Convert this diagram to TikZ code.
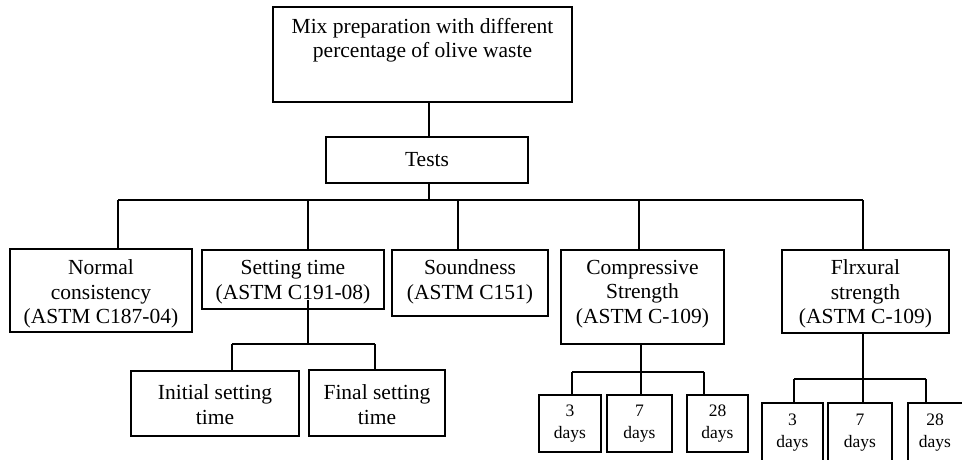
\documentclass[tikz,border=0pt]{standalone}
\usepackage{fontspec}
\setmainfont{Liberation Serif}
\begin{document}
\begin{tikzpicture}[x=1pt,y=-1pt,
  box/.style={draw, line width=1.1pt, rectangle, inner sep=0pt},
  txt/.style={align=center, inner sep=0pt, font=\fontsize{21.5}{24.5}\selectfont},
  small/.style={align=center, inner sep=0pt, font=\fontsize{17.5}{22}\selectfont},
  con/.style={line width=1.1pt}]
\useasboundingbox (0,0) rectangle (962,460);
% top
\node[box, minimum width=299, minimum height=95] (top) at (422.5,54.5) {};
\node[txt] (toptxt) at (422.5,40.5) {Mix preparation with different\\percentage of olive waste};
\node[box, minimum width=202, minimum height=46] (tests) at (427,160) {};
\node[txt] (teststxt) at (427,160) {Tests};
% level 2
\node[box, minimum width=182, minimum height=83] (norm) at (101,290.5) {};
\node[txt] (normtxt) at (101,294) {Normal\\consistency\\(ASTM C187-04)};
\node[box, minimum width=182, minimum height=59] (set) at (293,279.5) {};
\node[txt] (settxt) at (293,282) {Setting time\\(ASTM C191-08)};
\node[box, minimum width=156, minimum height=66] (sound) at (470,283) {};
\node[txt] (soundtxt) at (470,282) {Soundness\\(ASTM C151)};
\node[box, minimum width=163, minimum height=94] (comp) at (642.5,297) {};
\node[txt] (comptxt) at (642.5,294) {Compressive\\Strength\\(ASTM C-109)};
\node[box, minimum width=167, minimum height=83] (flex) at (865.5,291.5) {};
\node[txt] (flextxt) at (865.5,294) {Flrxural\\strength\\(ASTM C-109)};
% setting sub
\node[box, minimum width=168, minimum height=65] (init) at (215,403.5) {};
\node[txt] (inittxt) at (215,404.5) {Initial setting\\time};
\node[box, minimum width=136, minimum height=66] (fin) at (377,403) {};
\node[txt] (fintxt) at (377,404.5) {Final setting\\time};
% compressive days
\node[box, minimum width=62, minimum height=57] (c3) at (570,423.5) {};
\node[small] (c3t) at (570,424) {3\\days};
\node[box, minimum width=65, minimum height=57] (c7) at (639.5,423.5) {};
\node[small] (c7t) at (639.5,424) {7\\days};
\node[box, minimum width=61, minimum height=57] (c28) at (717.5,423.5) {};
\node[small] (c28t) at (717.5,424) {28\\days};
% flexural days
\node[box, minimum width=61, minimum height=67] (f3) at (792.5,436.5) {};
\node[small] (f3t) at (792.5,432.5) {3\\days};
\node[box, minimum width=64, minimum height=67] (f7) at (860,436.5) {};
\node[small] (f7t) at (860,432.5) {7\\days};
\node[box, minimum width=61, minimum height=67] (f28) at (938.5,436.5) {};
\node[small] (f28t) at (935,432.5) {28\\days};
% coordinates
\coordinate (t1) at (429,102);
\coordinate (t2) at (429,137);
\coordinate (t3) at (429,183);
\coordinate (b0) at (429,200);
\coordinate (d1) at (118,200);
\coordinate (d2) at (308,200);
\coordinate (d3) at (458,200);
\coordinate (d4) at (639,200);
\coordinate (d5) at (863,200);
\coordinate (s0) at (308,300);
\coordinate (s1) at (308,344);
\coordinate (sa) at (232,344);
\coordinate (sb) at (375,344);
\coordinate (c0) at (641,372);
\coordinate (ca) at (572,372);
\coordinate (cc) at (704,372);
\coordinate (f0) at (863,379);
\coordinate (fa) at (794,379);
\coordinate (fc) at (926,379);
% connectors
\draw[con] (t1) -- (t2);
\draw[con] (t3) -- (b0);
\draw[con] (d1) -- (d5);
\draw[con] (d1) -- (d1 |- norm.north);
\draw[con] (d2) -- (d2 |- set.north);
\draw[con] (d3) -- (d3 |- sound.north);
\draw[con] (d4) -- (d4 |- comp.north);
\draw[con] (d5) -- (d5 |- flex.north);
\draw[con] (s0) -- (s1);
\draw[con] (sa) -- (sb);
\draw[con] (sa) -- (sa |- init.north);
\draw[con] (sb) -- (sb |- fin.north);
\draw[con] (c0 |- comp.south) -- (c0);
\draw[con] (ca) -- (cc);
\draw[con] (ca) -- (ca |- c3.north);
\draw[con] (c0) -- (c0 |- c7.north);
\draw[con] (cc) -- (cc |- c28.north);
\draw[con] (f0 |- flex.south) -- (f0);
\draw[con] (fa) -- (fc);
\draw[con] (fa) -- (fa |- f3.north);
\draw[con] (f0) -- (f0 |- f7.north);
\draw[con] (fc) -- (fc |- f28.north);
\end{tikzpicture}
\end{document}
